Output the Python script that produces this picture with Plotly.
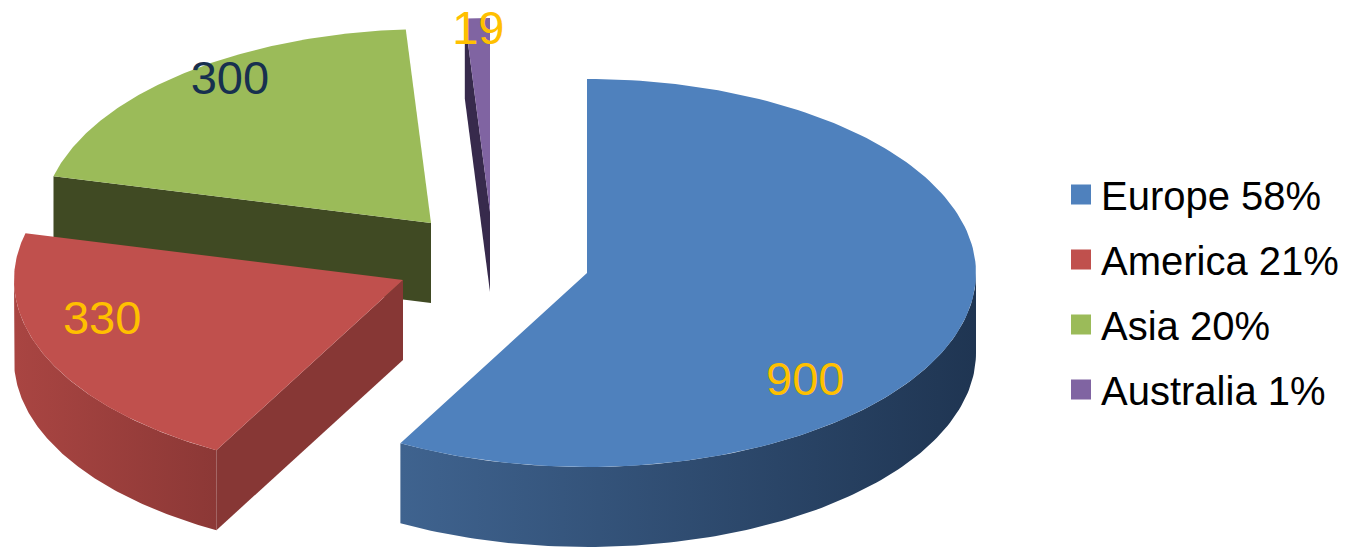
import numpy as np
import plotly.graph_objects as go

categories = ["Europe", "America", "Asia", "Australia"]
values = [900, 330, 300, 19]
legend_percent = [58, 21, 20, 1]

# Styling / layout of the exploded, tilted pie (not data)
TOP = ["#4F81BD", "#C0504D", "#9BBB59", "#8064A2"]
SIDE = ["#1F3552", "#873735", "#404A23", "#372A4C"]
WALL_GRAD = {0: ["#3F638F", "#1F3552"], 1: ["#A94542", "#8C3836"]}
APEX = [(587, 273), (403, 280), (431, 223), (490, 212)]
RX, RY, DEPTH = 389, 194, 80
VIEW_ADJUST = [0, -0.5, -1.9, 0.7, 0]  # small view-angle correction of the slice edges, degrees
LABEL_POS = [(134, 0.78), (256, 0.797), (325.5, 0.913), (358.2, 0.955)]
LABEL_DROP = 5
LABEL_COL = ["#FFC000", "#FFC000", "#17304F", "#FFC000"]
DRAW_ORDER = [2, 3, 1, 0]

total = sum(values)
edges = np.concatenate([[0], np.cumsum(values) / total * 360]) + np.array(VIEW_ADJUST)


def rim(i, t, drop=0.0):
    r = np.radians(t)
    return APEX[i][0] + RX * np.sin(r), APEX[i][1] - RY * np.cos(r) + drop


fig = go.Figure()


def poly(x, y, color=None, gradient=None):
    kw = dict(fillgradient=gradient) if gradient else dict(fillcolor=color)
    fig.add_trace(go.Scatter(x=list(x) + [x[0]], y=list(y) + [y[0]], mode="lines",
                             line=dict(width=0, color="rgba(0,0,0,0)"), fill="toself",
                             hoverinfo="skip", showlegend=False, **kw))


for i in DRAW_ORDER:
    a, b = edges[i], edges[i + 1]
    # outer wall (only the part of the rim that faces the viewer)
    lo, hi = max(a, 90), min(b, 270)
    if hi > lo:
        t = np.linspace(lo, hi, 120)
        xt, yt = rim(i, t)
        xb, yb = rim(i, t, DEPTH)
        grad = WALL_GRAD[i]
        poly(np.r_[xt, xb[::-1]], np.r_[yt, yb[::-1]],
             gradient=dict(type="horizontal",
                           colorscale=[[0, grad[0]], [1, grad[1]]]))
    # cut face at the start edge, visible for slices on the left side
    if a > 180:
        rx0, ry0 = rim(i, a)
        ax, ay = APEX[i]
        poly([ax, rx0, rx0, ax], [ay, ry0, ry0 + DEPTH, ay + DEPTH], color=SIDE[i])
    # top surface
    t = np.linspace(a, b, 160)
    xt, yt = rim(i, t)
    poly(np.r_[APEX[i][0], xt], np.r_[APEX[i][1], yt], color=TOP[i])

# data labels
for i in range(4):
    ang, frac = LABEL_POS[i]
    r = np.radians(ang)
    fig.add_trace(go.Scatter(
        x=[APEX[i][0] + frac * RX * np.sin(r)],
        y=[APEX[i][1] - frac * RY * np.cos(r) + LABEL_DROP],
        mode="text", text=[str(values[i])], textposition="middle center",
        textfont=dict(family="Liberation Sans", size=47, color=LABEL_COL[i]),
        hoverinfo="skip", showlegend=False, cliponaxis=False))

# legend entries
for i in range(4):
    fig.add_trace(go.Scatter(
        x=[None], y=[None], mode="markers", legendgroup=categories[i],
        name=f"{categories[i]} {legend_percent[i]}%",
        marker=dict(symbol="square", size=16, color=TOP[i],
                    line=dict(width=4, color=TOP[i]))))

fig.update_layout(
    width=1345, height=548, margin=dict(l=0, r=0, t=0, b=0),
    paper_bgcolor="white", plot_bgcolor="white",
    xaxis=dict(visible=False, range=[0, 1345], fixedrange=True),
    yaxis=dict(visible=False, range=[548, 0], fixedrange=True),
    legend=dict(x=1061 / 1345, y=1 - 162 / 548, xanchor="left", yanchor="top",
                font=dict(family="Liberation Sans", size=40, color="black"),
                tracegroupgap=10, traceorder="grouped", bgcolor="rgba(0,0,0,0)",
                itemwidth=30),
)
fig.write_html("out.html", config=dict(displayModeBar=False),
               post_script="document.body.style.margin='0';document.body.style.overflow='hidden';")
